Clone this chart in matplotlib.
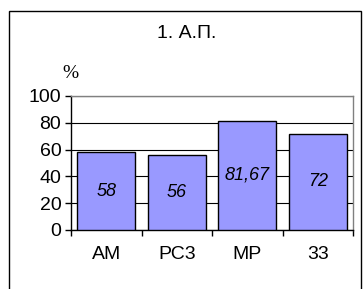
import matplotlib.pyplot as plt
import matplotlib.patches as patches

# ------------------ Data ------------------ #
categories = ["АМ", "РС3", "МР", "33"]
values = [58, 56, 81.67, 72]
value_labels = ["58", "56", "81,67", "72"]
title = "1. А.П."
yticks = [0, 20, 40, 60, 80, 100]

plt.rcParams['font.family'] = ['Liberation Sans', 'DejaVu Sans']
FS = 14

W, H = 364, 289
fig = plt.figure(figsize=(W / 100, H / 100), dpi=100)
ax = fig.add_axes([71 / W, 1 - 230 / H, (353 - 71) / W, (230 - 96) / H])

# outer chart border
fig.patches.append(patches.Rectangle((9 / W, -0.05), (361 - 9) / W, 1 - 11 / H + 0.05,
                                     transform=fig.transFigure, fill=False,
                                     edgecolor='black', linewidth=1.0))

x = range(len(categories))
ax.bar(x, values, width=0.82, color='#9999FF', edgecolor='black',
       linewidth=1.0, zorder=3)
for i, (v, lab) in enumerate(zip(values, value_labels)):
    ax.text(i, v / 2, lab, ha='center', va='center', fontsize=13,
            style='italic', zorder=4)

ax.set_xlim(-0.5, len(categories) - 0.5)
ax.set_ylim(0, 100)
ax.set_yticks(yticks)
ax.set_yticklabels([str(t) for t in yticks], fontsize=FS)
ax.set_xticks([i - 0.5 for i in range(len(categories) + 1)])
ax.set_xticklabels([])
for i, c in enumerate(categories):
    ax.text(i, -18.5, c, ha='center', va='center', fontsize=FS,
            transform=ax.transData)
ax.tick_params(axis='both', direction='out', length=4, width=1, pad=3)
ax.yaxis.grid(True, color='black', linewidth=0.8, zorder=0)

for side in ['top', 'right']:
    ax.spines[side].set_color('#808080')
    ax.spines[side].set_linewidth(1)
for side in ['left', 'bottom']:
    ax.spines[side].set_color('black')
    ax.spines[side].set_linewidth(1)

fig.text(187 / W, 1 - 33 / H, title, ha='center', va='center', fontsize=FS)
fig.text(70 / W, 1 - 74 / H, "%", ha='center', va='center', fontsize=FS,
         family=['Liberation Serif', 'DejaVu Serif'])

fig.savefig("out.png", dpi=100)
